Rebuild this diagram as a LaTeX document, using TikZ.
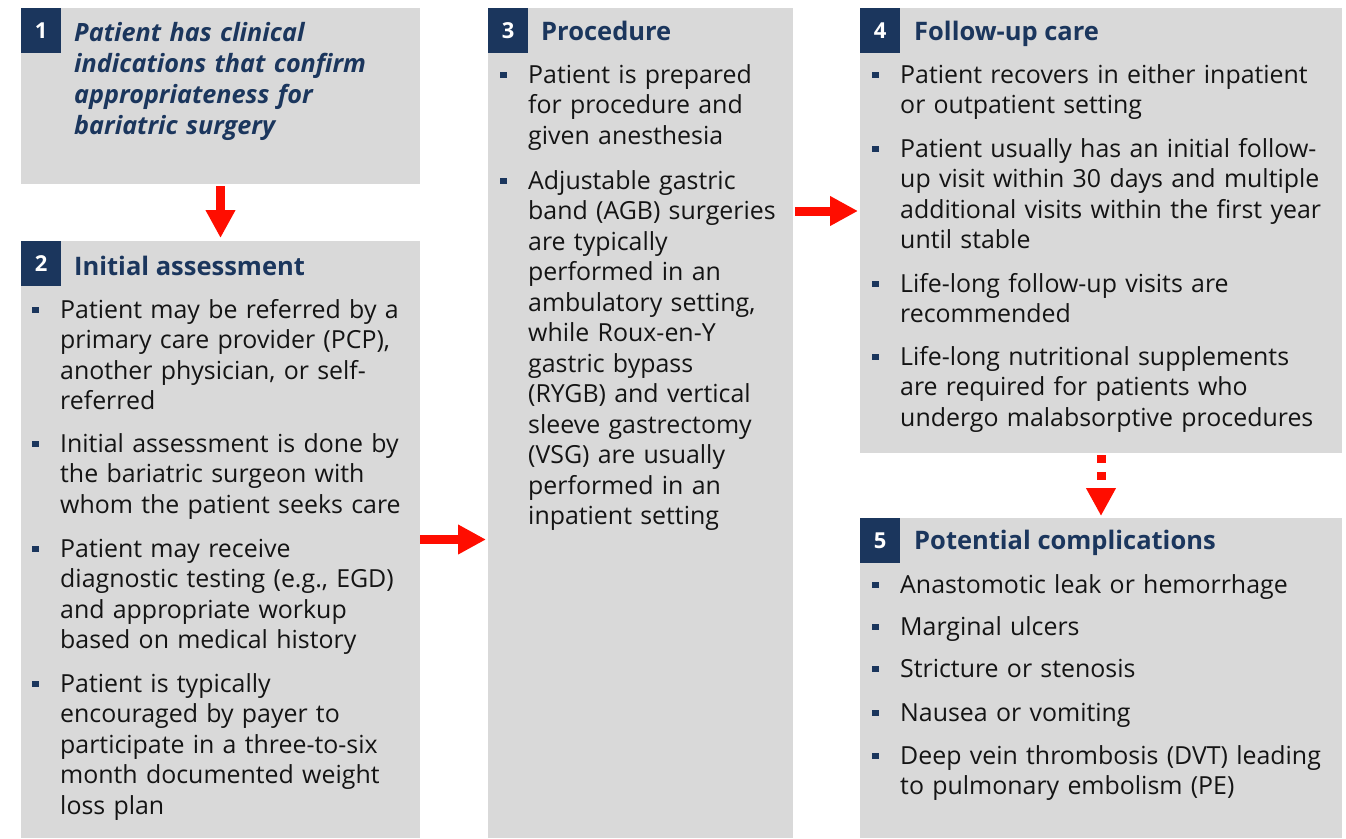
\documentclass[tikz,border=0pt]{standalone}
\usepackage{fontspec}
\setmainfont{Open Sans}
\usetikzlibrary{arrows.meta}
\definecolor{navy}{HTML}{1B365D}
\definecolor{boxgray}{HTML}{D9D9D9}
\definecolor{arrowred}{HTML}{FF0D00}
\definecolor{bodytext}{HTML}{141414}
\newcommand{\bul}{\leavevmode\llap{\textcolor{navy}{\rule[5pt]{7pt}{6pt}}\hspace{21pt}}}
\begin{document}
\begin{tikzpicture}[x=1pt,y=-1pt,
 box/.style={fill=boxgray, draw=none, inner sep=0pt, outer sep=0pt, anchor=north west},
 num/.style={fill=navy, text=white, font=\fontsize{22}{26}\selectfont\bfseries, inner sep=0pt, minimum width=40pt, minimum height=45pt, anchor=north west},
 head/.style={text=navy, font=\fontsize{25.5}{30}\selectfont\bfseries, anchor=base west, inner sep=0pt},
 itm/.style={text=bodytext, font=\fontsize{24.9}{30.5}\selectfont, anchor=base west, inner sep=0pt, align=left, text width=#1},
 flow/.style={draw=arrowred, line width=9pt, -{Triangle[length=28pt,width=28pt]}}
]
\useasboundingbox (0,0) rectangle (1346,838);
% boxes
\node[box, minimum width=399pt, minimum height=176pt] (b1) at (21,8) {};
\node[box, minimum width=399pt, minimum height=597pt] (b2) at (21,241) {};
\node[box, minimum width=305pt, minimum height=830pt] (b3) at (488,8) {};
\node[box, minimum width=482pt, minimum height=445pt] (b4) at (860,8) {};
\node[box, minimum width=482pt, minimum height=320pt] (b5) at (860,518) {};
% numbers
\node[num] (n1) at (21,8) {1};
\node[num] (n2) at (21,241) {2};
\node[num] (n3) at (488,8) {3};
\node[num] (n4) at (860,8) {4};
\node[num] (n5) at (860,518) {5};
% box 1
\node[text=navy, font=\fontsize{25.2}{31}\selectfont\bfseries\itshape, anchor=base west, inner sep=0pt, align=left, text width=340pt] (t1) at (74,41)
 {Patient has clinical\\indications that confirm\\appropriateness for\\bariatric surgery};
% headings
\node[head] (h2) at (74,275) {Initial assessment};
\node[head] (h3) at (541,40) {Procedure};
\node[head] (h4) at (914,40) {Follow-up care};
\node[head] (h5) at (914,549) {Potential complications};
% box 2 items
\node[itm=355pt] (i21) at (60,318) {\bul Patient may be referred by a\\primary care provider (PCP),\\another physician, or self-\\referred};
\node[itm=355pt] (i22) at (60,452) {\bul Initial assessment is done by\\the bariatric surgeon with\\whom the patient seeks care};
\node[itm=355pt] (i23) at (60,557) {\bul Patient may receive\\diagnostic testing (e.g., EGD)\\and appropriate workup\\based on medical history};
\node[itm=355pt] (i24) at (60,692) {\bul Patient is typically\\encouraged by payer to\\participate in a three-to-six\\month documented weight\\loss plan};
% box 3 items
\node[itm=262pt] (i31) at (528,83) {\bul Patient is prepared\\for procedure and\\given anesthesia};
\node[itm=262pt] (i32) at (528,189) {\bul Adjustable gastric\\band (AGB) surgeries\\are typically\\performed in an\\ambulatory setting,\\while Roux-en-Y\\gastric bypass\\(RYGB) and vertical\\sleeve gastrectomy\\(VSG) are usually\\performed in an\\inpatient setting};
% box 4 items
\node[itm=437pt] (i41) at (900,83) {\bul Patient recovers in either inpatient\\or outpatient setting};
\node[itm=437pt] (i42) at (900,157) {\bul Patient usually has an initial follow-\\up visit within 30 days and multiple\\additional visits within the first year\\until stable};
\node[itm=437pt] (i43) at (900,292) {\bul Life-long follow-up visits are\\recommended};
\node[itm=437pt] (i44) at (900,365) {\bul Life-long nutritional supplements\\are required for patients who\\undergo malabsorptive procedures};
% box 5 items
\node[itm=437pt] (i51) at (900,593) {\bul Anastomotic leak or hemorrhage};
\node[itm=437pt] (i52) at (900,635) {\bul Marginal ulcers};
\node[itm=437pt] (i53) at (900,677) {\bul Stricture or stenosis};
\node[itm=437pt] (i54) at (900,721) {\bul Nausea or vomiting};
\node[itm=437pt] (i55) at (900,764) {\bul Deep vein thrombosis (DVT) leading\\to pulmonary embolism (PE)};
% connectors
\coordinate (a34) at (795,211);
\draw[flow] ([yshift=-2pt]b1.south) -- ([yshift=3pt]b2.north);
\draw[flow] (b2.east) -- ([xshift=-2pt]b2.east -| b3.west);
\draw[flow] (a34) -- ([xshift=-2pt]a34 -| b4.west);
\draw[flow, dash pattern=on 8pt off 9pt] ([yshift=-2pt]b4.south) -- ([yshift=2pt]b5.north);
\end{tikzpicture}
\end{document}
